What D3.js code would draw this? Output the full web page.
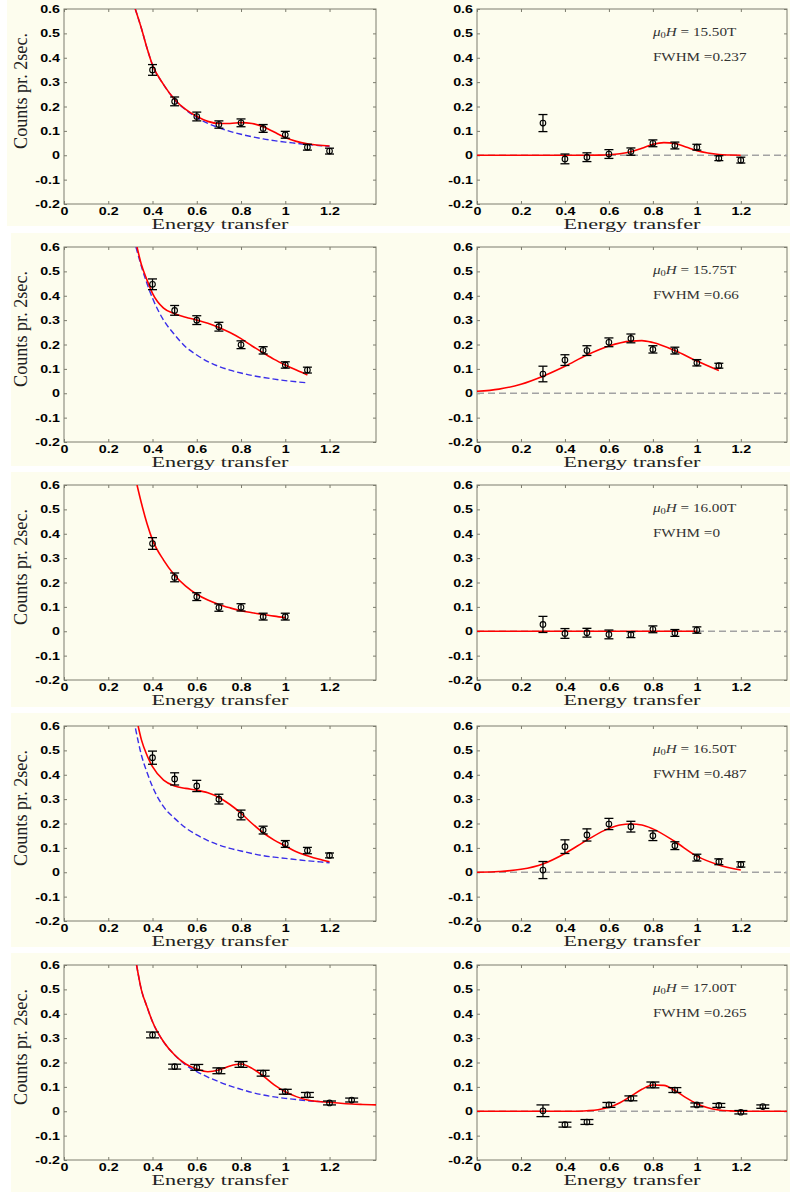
<!DOCTYPE html>
<html><head><meta charset="utf-8">
<script src="https://cdn.jsdelivr.net/npm/d3@7"></script>
<style>body{margin:0;background:#fff}</style>
</head><body><svg id="c" width="790" height="1192"></svg>
<script>
// ---------- shared axis data ----------
const xTicks = [0, 0.2, 0.4, 0.6, 0.8, 1, 1.2];
const xTickLabels = ["0", "0.2", "0.4", "0.6", "0.8", "1", "1.2"];
const yTicks = [-0.2, -0.1, 0, 0.1, 0.2, 0.3, 0.4, 0.5, 0.6];
const yTickLabels = ["-0.2", "-0.1", "0", "0.1", "0.2", "0.3", "0.4", "0.5", "0.6"];
const xLabel = "Energy transfer";
const yLabel = "Counts pr. 2sec.";

// ---------- left panels (total signal + background) ----------
const L1x = [0.4, 0.5, 0.6, 0.7, 0.8, 0.9, 1.0, 1.1, 1.2];
const L1y = [0.35, 0.221, 0.159, 0.126, 0.133, 0.11, 0.084, 0.033, 0.017];
const L1e = [0.022, 0.018, 0.018, 0.015, 0.016, 0.016, 0.014, 0.012, 0.012];
const L1fitX = [0.322, 0.35, 0.375, 0.4, 0.45, 0.5, 0.55, 0.6, 0.65, 0.7, 0.75, 0.8, 0.85, 0.9, 0.95, 1.0, 1.05, 1.1, 1.15, 1.2];
const L1fitY = [0.6, 0.52, 0.44, 0.37, 0.29, 0.229, 0.188, 0.16, 0.139, 0.13, 0.13, 0.134, 0.13, 0.117, 0.095, 0.073, 0.057, 0.047, 0.041, 0.038];
const L1bgX = [0.322, 0.35, 0.375, 0.4, 0.45, 0.5, 0.55, 0.6, 0.65, 0.7, 0.75, 0.8, 0.85, 0.9, 0.95, 1.0, 1.05, 1.1, 1.15, 1.2];
const L1bgY = [0.6, 0.52, 0.44, 0.37, 0.29, 0.228, 0.186, 0.155, 0.131, 0.113, 0.098, 0.086, 0.076, 0.067, 0.06, 0.054, 0.049, 0.044, 0.04, 0.037];

const L2x = [0.4, 0.5, 0.6, 0.7, 0.8, 0.9, 1.0, 1.1];
const L2y = [0.447, 0.34, 0.30, 0.273, 0.199, 0.176, 0.116, 0.095];
const L2e = [0.022, 0.02, 0.018, 0.018, 0.016, 0.015, 0.013, 0.012];
const L2fitX = [0.33, 0.35, 0.375, 0.4, 0.45, 0.5, 0.55, 0.6, 0.65, 0.7, 0.75, 0.8, 0.85, 0.9, 0.95, 1.0, 1.05, 1.1];
const L2fitY = [0.6, 0.527, 0.465, 0.41, 0.349, 0.326, 0.312, 0.3, 0.287, 0.27, 0.249, 0.224, 0.194, 0.166, 0.139, 0.116, 0.095, 0.075];
const L2bgX = [0.325, 0.35, 0.375, 0.4, 0.45, 0.5, 0.55, 0.6, 0.65, 0.7, 0.75, 0.8, 0.85, 0.9, 0.95, 1.0, 1.05, 1.1];
const L2bgY = [0.6, 0.52, 0.45, 0.39, 0.3, 0.24, 0.19, 0.157, 0.13, 0.11, 0.095, 0.083, 0.073, 0.065, 0.058, 0.052, 0.047, 0.043];

const L3x = [0.4, 0.5, 0.6, 0.7, 0.8, 0.9, 1.0];
const L3y = [0.36, 0.221, 0.142, 0.097, 0.098, 0.06, 0.06];
const L3e = [0.024, 0.018, 0.016, 0.015, 0.015, 0.014, 0.014];
const L3fitX = [0.33, 0.35, 0.375, 0.4, 0.45, 0.5, 0.55, 0.6, 0.65, 0.7, 0.75, 0.8, 0.85, 0.9, 0.95, 1.0];
const L3fitY = [0.6, 0.525, 0.442, 0.375, 0.292, 0.23, 0.185, 0.152, 0.128, 0.11, 0.096, 0.084, 0.076, 0.069, 0.062, 0.056];

const L4x = [0.4, 0.5, 0.6, 0.7, 0.8, 0.9, 1.0, 1.1, 1.2];
const L4y = [0.47, 0.383, 0.354, 0.30, 0.235, 0.173, 0.116, 0.089, 0.069];
const L4e = [0.027, 0.025, 0.023, 0.02, 0.02, 0.016, 0.014, 0.013, 0.01];
const L4fitX = [0.335, 0.35, 0.375, 0.4, 0.45, 0.5, 0.55, 0.6, 0.65, 0.7, 0.75, 0.8, 0.85, 0.9, 0.95, 1.0, 1.05, 1.1, 1.15, 1.2];
const L4fitY = [0.6, 0.543, 0.48, 0.433, 0.378, 0.354, 0.344, 0.337, 0.326, 0.307, 0.278, 0.242, 0.2, 0.162, 0.132, 0.108, 0.084, 0.068, 0.054, 0.043];
const L4bgX = [0.323, 0.35, 0.375, 0.4, 0.45, 0.5, 0.55, 0.6, 0.65, 0.7, 0.75, 0.8, 0.85, 0.9, 0.95, 1.0, 1.05, 1.1, 1.15, 1.2];
const L4bgY = [0.59, 0.48, 0.41, 0.351, 0.269, 0.221, 0.182, 0.153, 0.13, 0.112, 0.098, 0.087, 0.077, 0.068, 0.062, 0.057, 0.052, 0.047, 0.043, 0.039];

const L5x = [0.4, 0.5, 0.6, 0.7, 0.8, 0.9, 1.0, 1.1, 1.2, 1.3];
const L5y = [0.313, 0.183, 0.18, 0.166, 0.192, 0.156, 0.08, 0.067, 0.034, 0.046];
const L5e = [0.012, 0.01, 0.012, 0.012, 0.012, 0.012, 0.01, 0.01, 0.008, 0.008];
const L5fitX = [0.328, 0.35, 0.375, 0.4, 0.45, 0.5, 0.55, 0.6, 0.65, 0.7, 0.75, 0.8, 0.85, 0.9, 0.95, 1.0, 1.05, 1.1, 1.15, 1.2, 1.25, 1.3, 1.35, 1.41];
const L5fitY = [0.6, 0.497, 0.429, 0.367, 0.285, 0.231, 0.194, 0.173, 0.162, 0.169, 0.186, 0.194, 0.176, 0.145, 0.108, 0.08, 0.06, 0.046, 0.04, 0.037, 0.033, 0.03, 0.028, 0.026];
const L5bgX = [0.328, 0.35, 0.375, 0.4, 0.45, 0.5, 0.55, 0.6, 0.65, 0.7, 0.75, 0.8, 0.85, 0.9, 0.95, 1.0, 1.05, 1.1, 1.15, 1.2];
const L5bgY = [0.6, 0.497, 0.429, 0.367, 0.285, 0.231, 0.19, 0.163, 0.14, 0.121, 0.104, 0.09, 0.077, 0.067, 0.059, 0.053, 0.048, 0.043, 0.04, 0.037];

// ---------- right panels (magnetic signal after background subtraction) ----------
const R1x = [0.3, 0.4, 0.5, 0.6, 0.7, 0.8, 0.9, 1.0, 1.1, 1.2];
const R1y = [0.132, -0.015, -0.008, 0.005, 0.015, 0.049, 0.04, 0.033, -0.012, -0.02];
const R1e = [0.035, 0.02, 0.018, 0.018, 0.015, 0.014, 0.014, 0.012, 0.01, 0.012];
const R1fitX = [0, 0.5, 0.55, 0.6, 0.65, 0.7, 0.75, 0.8, 0.85, 0.9, 0.95, 1.0, 1.05, 1.1, 1.15, 1.2];
const R1fitY = [0, 0, 0.0005, 0.002, 0.006, 0.014, 0.029, 0.045, 0.052, 0.048, 0.034, 0.019, 0.009, 0.003, 0.001, 0];
const R1field = "15.50T", R1fwhm = "0.237";

const R2x = [0.3, 0.4, 0.5, 0.6, 0.7, 0.8, 0.9, 1.0, 1.1];
const R2y = [0.079, 0.136, 0.175, 0.209, 0.225, 0.18, 0.175, 0.125, 0.113];
const R2e = [0.032, 0.022, 0.02, 0.018, 0.018, 0.015, 0.014, 0.013, 0.01];
const R2fitX = [0, 0.1, 0.2, 0.3, 0.4, 0.5, 0.6, 0.7, 0.75, 0.8, 0.9, 1.0, 1.1];
const R2fitY = [0.008, 0.017, 0.037, 0.07, 0.111, 0.157, 0.194, 0.214, 0.216, 0.208, 0.175, 0.132, 0.093];
const R2field = "15.75T", R2fwhm = "0.66";

const R3x = [0.3, 0.4, 0.5, 0.6, 0.7, 0.8, 0.9, 1.0];
const R3y = [0.028, -0.009, -0.006, -0.013, -0.014, 0.008, -0.007, 0.005];
const R3e = [0.033, 0.02, 0.018, 0.018, 0.012, 0.014, 0.014, 0.013];
const R3fitX = [0, 1.0];
const R3fitY = [0, 0];
const R3field = "16.00T", R3fwhm = "0";

const R4x = [0.3, 0.4, 0.5, 0.6, 0.7, 0.8, 0.9, 1.0, 1.1, 1.2];
const R4y = [0.009, 0.105, 0.153, 0.198, 0.187, 0.15, 0.109, 0.06, 0.043, 0.032];
const R4e = [0.035, 0.028, 0.025, 0.023, 0.022, 0.02, 0.016, 0.014, 0.012, 0.011];
const R4fitX = [0, 0.1, 0.2, 0.3, 0.4, 0.5, 0.6, 0.65, 0.7, 0.75, 0.8, 0.9, 1.0, 1.1, 1.2];
const R4fitY = [0, 0.003, 0.012, 0.034, 0.077, 0.132, 0.18, 0.194, 0.198, 0.194, 0.178, 0.126, 0.066, 0.03, 0.009];
const R4field = "16.50T", R4fwhm = "0.487";

const R5x = [0.3, 0.4, 0.5, 0.6, 0.7, 0.8, 0.9, 1.0, 1.1, 1.2, 1.3];
const R5y = [0.002, -0.055, -0.044, 0.026, 0.053, 0.108, 0.087, 0.026, 0.024, -0.004, 0.019];
const R5e = [0.024, 0.01, 0.01, 0.01, 0.01, 0.012, 0.01, 0.008, 0.008, 0.007, 0.007];
const R5fitX = [0, 0.45, 0.5, 0.55, 0.6, 0.65, 0.7, 0.75, 0.8, 0.85, 0.9, 0.95, 1.0, 1.05, 1.1, 1.15, 1.2, 1.41];
const R5fitY = [0, 0, 0.002, 0.006, 0.016, 0.035, 0.062, 0.09, 0.108, 0.106, 0.085, 0.056, 0.031, 0.014, 0.005, 0.0015, 0, 0];
const R5field = "17.00T", R5fwhm = "0.265";

// ---------- build panel table ----------
const rowTops = [9, 247, 485, 726, 965];
const pts = (xs, ys, es) => xs.map((x, i) => ({x, y: ys[i], e: es ? es[i] : 0}));
const leftPanels = [
  {pts: pts(L1x, L1y, L1e), fit: pts(L1fitX, L1fitY), bg: pts(L1bgX, L1bgY), cap: 4.5},
  {pts: pts(L2x, L2y, L2e), fit: pts(L2fitX, L2fitY), bg: pts(L2bgX, L2bgY), cap: 4.5},
  {pts: pts(L3x, L3y, L3e), fit: pts(L3fitX, L3fitY), bg: null, cap: 4.5},
  {pts: pts(L4x, L4y, L4e), fit: pts(L4fitX, L4fitY), bg: pts(L4bgX, L4bgY), cap: 4.5},
  {pts: pts(L5x, L5y, L5e), fit: pts(L5fitX, L5fitY), bg: pts(L5bgX, L5bgY), cap: 6.5}
];
const rightPanels = [
  {pts: pts(R1x, R1y, R1e), fit: pts(R1fitX, R1fitY), field: R1field, fwhm: R1fwhm, cap: 4.5},
  {pts: pts(R2x, R2y, R2e), fit: pts(R2fitX, R2fitY), field: R2field, fwhm: R2fwhm, cap: 4.5},
  {pts: pts(R3x, R3y, R3e), fit: pts(R3fitX, R3fitY), field: R3field, fwhm: R3fwhm, cap: 4.5},
  {pts: pts(R4x, R4y, R4e), fit: pts(R4fitX, R4fitY), field: R4field, fwhm: R4fwhm, cap: 4.5},
  {pts: pts(R5x, R5y, R5e), fit: pts(R5fitX, R5fitY), field: R5field, fwhm: R5fwhm, cap: 6.5}
];

// ---------- drawing ----------
const svg = d3.select("#c");
const cream = "#fdfdee";
const frameCol = "#7d7d6e";
const SX = 1.3; // horizontal stretch of the reference lettering
const xMax = 1.41;

// cream backgrounds per row
const bgBands = [[0, 226], [233, 466], [472, 707], [713, 947], [953, 1192]];
bgBands.forEach(([a, b], i) => {
  svg.append("rect").attr("x", i === 0 ? 7 : 11).attr("y", a).attr("width", 790).attr("height", b - a).attr("fill", cream);
});

function drawPanel(p, left, top, w, h, isLeft, idx) {
  const g = svg.append("g").attr("transform", `translate(${left},${top})`);
  const x = d3.scaleLinear().domain([0, xMax]).range([0, w]);
  const y = d3.scaleLinear().domain([-0.2, 0.6]).range([h, 0]);
  const clipId = "clip" + (isLeft ? "L" : "R") + idx;
  g.append("clipPath").attr("id", clipId).append("rect").attr("width", w).attr("height", h);

  // axes
  const styleAxis = sel => {
    sel.select(".domain").remove();
    sel.selectAll(".tick line").attr("stroke", frameCol).attr("stroke-width", 1);
  };
  const ax = g.append("g").attr("transform", `translate(0,${h})`)
    .call(d3.axisBottom(x).tickValues(xTicks).tickFormat((d, i) => xTickLabels[i]).tickSize(-3).tickSizeOuter(0).tickPadding(3));
  styleAxis(ax);
  const ay = g.append("g")
    .call(d3.axisLeft(y).tickValues(yTicks).tickFormat((d, i) => yTickLabels[i]).tickSize(-3).tickSizeOuter(0).tickPadding(4));
  styleAxis(ay);
  g.append("g").call(d3.axisTop(x).tickValues(xTicks).tickFormat("").tickSize(-3).tickSizeOuter(0)).call(styleAxis);
  g.append("g").attr("transform", `translate(${w},0)`).call(d3.axisRight(y).tickValues(yTicks).tickFormat("").tickSize(-3).tickSizeOuter(0)).call(styleAxis);

  [ax, ay].forEach(a => a.selectAll("text")
    .attr("font-family", "'Liberation Sans', Arial, sans-serif")
    .attr("font-size", 11).attr("font-weight", "bold").attr("fill", "#000"));
  ax.selectAll("text").attr("transform", `scale(${SX},1)`);
  ay.selectAll("text").attr("x", -4 / SX).attr("transform", `scale(${SX},1)`);

  g.append("rect").attr("width", w).attr("height", h).attr("fill", "none").attr("stroke", frameCol).attr("stroke-width", 1);

  const plot = g.append("g").attr("clip-path", `url(#${clipId})`);
  const line = d3.line().x(d => x(d.x)).y(d => y(d.y)).curve(d3.curveMonotoneX);

  if (!isLeft) {
    plot.append("line").attr("x1", x(0)).attr("x2", x(xMax)).attr("y1", y(0)).attr("y2", y(0))
      .attr("stroke", "#a3a3a3").attr("stroke-width", 1.4).attr("stroke-dasharray", "7,4");
  }
  if (p.bg) {
    plot.append("path").datum(p.bg).attr("d", line).attr("fill", "none")
      .attr("stroke", "#3a2ee8").attr("stroke-width", 1.4).attr("stroke-dasharray", "6,3");
  }
  plot.append("path").datum(p.fit).attr("d", line).attr("fill", "none")
    .attr("stroke", "#ff0000").attr("stroke-width", 1.6);

  // error bars
  const eb = g.append("g").attr("stroke", "#000").attr("stroke-width", 1.3).attr("fill", "none");
  p.pts.forEach(d => {
    const cx = x(d.x), y1 = y(d.y + d.e), y2 = y(d.y - d.e);
    eb.append("line").attr("x1", cx).attr("x2", cx).attr("y1", y1).attr("y2", y2);
    eb.append("line").attr("x1", cx - p.cap).attr("x2", cx + p.cap).attr("y1", y1).attr("y2", y1);
    eb.append("line").attr("x1", cx - p.cap).attr("x2", cx + p.cap).attr("y1", y2).attr("y2", y2);
    eb.append("circle").attr("cx", cx).attr("cy", y(d.y)).attr("r", 2.8).attr("stroke-width", 1.1);
  });

  // x label
  g.append("text").attr("x", w / 2).attr("y", h + 24.5).attr("text-anchor", "middle")
    .attr("font-family", "'Liberation Serif', 'Times New Roman', serif").attr("font-size", 15)
    .attr("textLength", 137).attr("lengthAdjust", "spacingAndGlyphs")
    .attr("fill", "#222").text(xLabel);

  if (isLeft) {
    g.append("text").attr("transform", `translate(${27 - left},${82}) rotate(-90)`)
      .attr("text-anchor", "middle")
      .attr("font-family", "'Liberation Serif', 'Times New Roman', serif").attr("font-size", 18)
      .attr("textLength", 116).attr("lengthAdjust", "spacingAndGlyphs")
      .attr("fill", "#222").text(yLabel);
  } else {
    const t1 = g.append("g").attr("transform", `translate(${x(0.8)},${y(0.489)})`)
      .append("text").attr("transform", `scale(1.32,1)`)
      .attr("font-family", "'Liberation Serif', 'Times New Roman', serif").attr("font-size", 11.5).attr("fill", "#333");
    t1.append("tspan").attr("font-style", "italic").text("μ");
    t1.append("tspan").attr("font-size", 8).attr("dy", 2).text("0");
    t1.append("tspan").attr("font-style", "italic").attr("dy", -2).text("H");
    t1.append("tspan").text(" = " + p.field);
    g.append("g").attr("transform", `translate(${x(0.8)},${y(0.387)})`)
      .append("text").attr("transform", `scale(1.32,1)`)
      .attr("font-family", "'Liberation Serif', 'Times New Roman', serif").attr("font-size", 11.5).attr("fill", "#333")
      .text("FWHM =" + p.fwhm);
  }
}

leftPanels.forEach((p, i) => drawPanel(p, 64, rowTops[i], 312, 195, true, i));
rightPanels.forEach((p, i) => drawPanel(p, 477, rowTops[i], 310, 195, false, i));
</script></body></html>
